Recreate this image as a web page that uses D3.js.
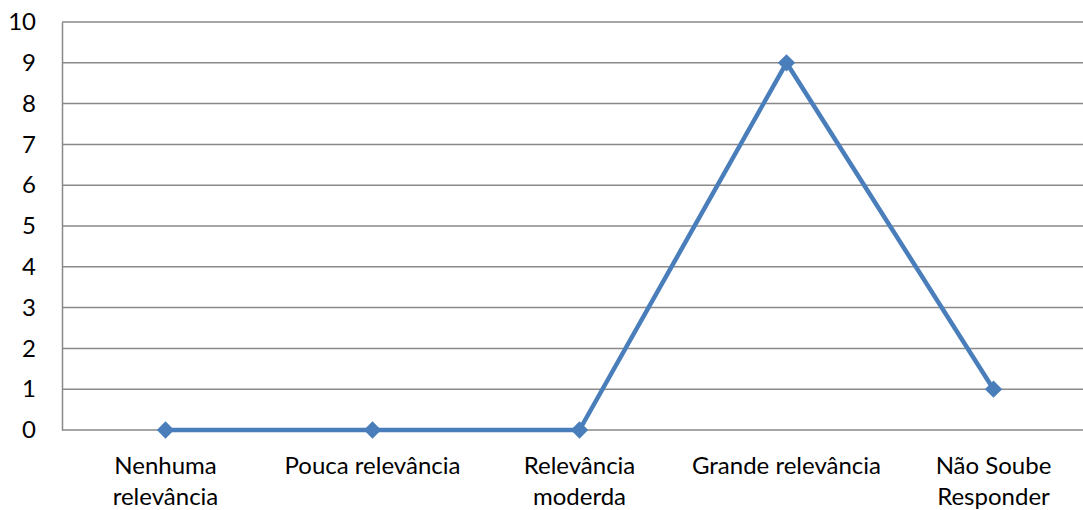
<!DOCTYPE html>
<html>
<head>
<meta charset="utf-8">
<script src="https://cdn.jsdelivr.net/npm/d3@7"></script>
<style>
  html, body { margin: 0; padding: 0; background: #fff; }
  svg { display: block; }
  text { font-family: Lato, "Open Sans", sans-serif; fill: #000; }
</style>
</head>
<body>
<svg id="chart" width="1083" height="510"></svg>
<script>
// Survey answers: relevance ratings and respondent counts
const categories = [
  ["Nenhuma", "relevância"],
  ["Pouca relevância"],
  ["Relevância", "moderda"],
  ["Grande relevância"],
  ["Não Soube", "Responder"]
];
const values = [0, 0, 0, 9, 1];
const yTicks = [0, 1, 2, 3, 4, 5, 6, 7, 8, 9, 10];

const svg = d3.select("#chart");
const plotLeft = 62, plotRight = 1097, plotTop = 22, plotBottom = 430;
const fontSize = "24px";

const x = d3.scaleBand()
  .domain(d3.range(categories.length))
  .range([plotLeft, plotRight]);

const y = d3.scaleLinear()
  .domain([0, 10])
  .range([plotBottom, plotTop]);

// horizontal gridlines
svg.append("g")
  .selectAll("line")
  .data(yTicks)
  .join("line")
  .attr("x1", plotLeft)
  .attr("x2", plotRight)
  .attr("y1", d => y(d))
  .attr("y2", d => y(d))
  .attr("stroke", "#898989")
  .attr("stroke-width", 1.5);

// y axis
const yAxis = svg.append("g")
  .attr("transform", `translate(${plotLeft},0)`)
  .call(d3.axisLeft(y).tickValues(yTicks).tickSize(0).tickPadding(26));
yAxis.select(".domain").attr("stroke", "#898989").attr("stroke-width", 1.5);
yAxis.selectAll("text")
  .style("font-size", fontSize)
  .style("font-family", "Lato, 'Open Sans', sans-serif")
  .attr("fill", "#000");

// x axis category labels
const xLabels = svg.append("g");
categories.forEach((lines, i) => {
  const cx = x(i) + x.bandwidth() / 2;
  const t = xLabels.append("text")
    .attr("x", cx)
    .attr("y", 474)
    .attr("text-anchor", "middle")
    .style("font-size", fontSize);
  lines.forEach((ln, j) => {
    t.append("tspan")
      .attr("x", cx)
      .attr("dy", j === 0 ? 0 : 31)
      .text(ln);
  });
});

// series line
const line = d3.line()
  .x((d, i) => x(i) + x.bandwidth() / 2)
  .y(d => y(d));

svg.append("path")
  .datum(values)
  .attr("d", line)
  .attr("fill", "none")
  .attr("stroke", "#4a7ebb")
  .attr("stroke-width", 4.5)
  .attr("stroke-linejoin", "round");

// diamond markers
const diamond = d3.symbol().type(d3.symbolSquare).size(150);
svg.append("g")
  .selectAll("path")
  .data(values)
  .join("path")
  .attr("d", diamond)
  .attr("transform", (d, i) => `translate(${x(i) + x.bandwidth() / 2},${y(d)}) rotate(45)`)
  .attr("fill", "#4a7ebb");
</script>
</body>
</html>
